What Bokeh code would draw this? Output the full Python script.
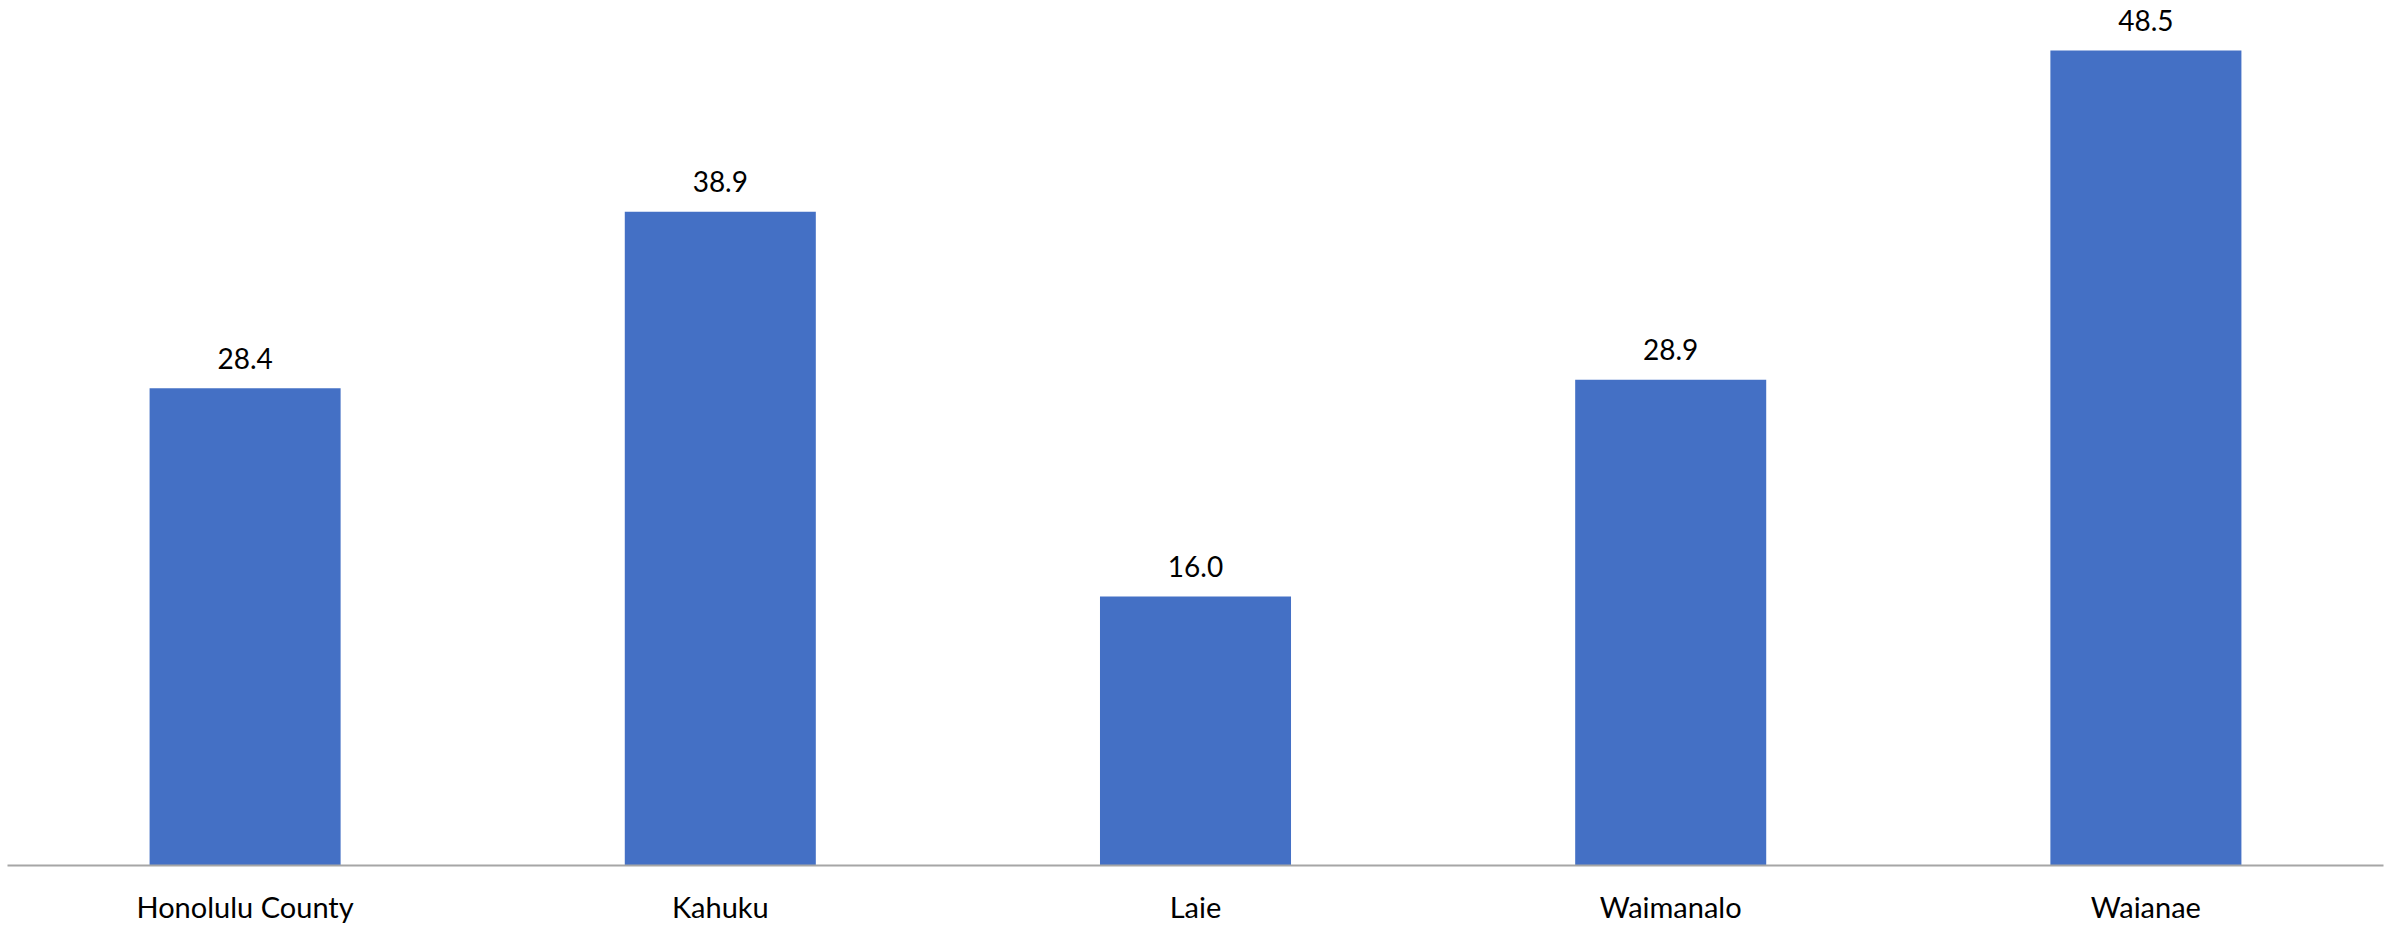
from bokeh.plotting import figure
from bokeh.models import ColumnDataSource, FactorRange, Range1d
from bokeh.embed import file_html
from bokeh.resources import INLINE
from bokeh.core.properties import value

categories = ["Honolulu County", "Kahuku", "Laie", "Waimanalo", "Waianae"]
values = [28.4, 38.9, 16.0, 28.9, 48.5]
labels = [f"{v:.1f}" for v in values]

src = ColumnDataSource(dict(cat=categories, val=values, lab=labels))

p = figure(
    x_range=FactorRange(*categories, range_padding=0),
    y_range=Range1d(0, 51.47),
    width=2390, height=926,
    output_backend="svg", toolbar_location=None,
    min_border_left=7, min_border_right=7, min_border_top=0, min_border_bottom=40,
)
p.outline_line_color = None
p.background_fill_color = "white"
p.border_fill_color = "white"
p.xgrid.grid_line_color = None
p.ygrid.grid_line_color = None
p.yaxis.visible = False

p.vbar(x="cat", top="val", width=0.402, bottom=0, source=src,
       fill_color="#4470c5", line_color=None)

p.text(x="cat", y="val", text="lab", source=src, y_offset=-30,
       text_align="center", text_baseline="alphabetic",
       text_font=value("Lato"), text_font_size="28px", text_color="#000000")

ax = p.xaxis[0]
ax.axis_line_color = "#a6a6a6"
ax.axis_line_width = 2
ax.major_tick_line_color = None
ax.minor_tick_line_color = None
ax.major_tick_out = 0
ax.major_tick_in = 0
ax.major_label_standoff = 23
ax.major_label_text_font = "Lato"
ax.major_label_text_font_size = "29px"
ax.major_label_text_color = "#000000"

open("out.html", "w").write(file_html(p, INLINE))
